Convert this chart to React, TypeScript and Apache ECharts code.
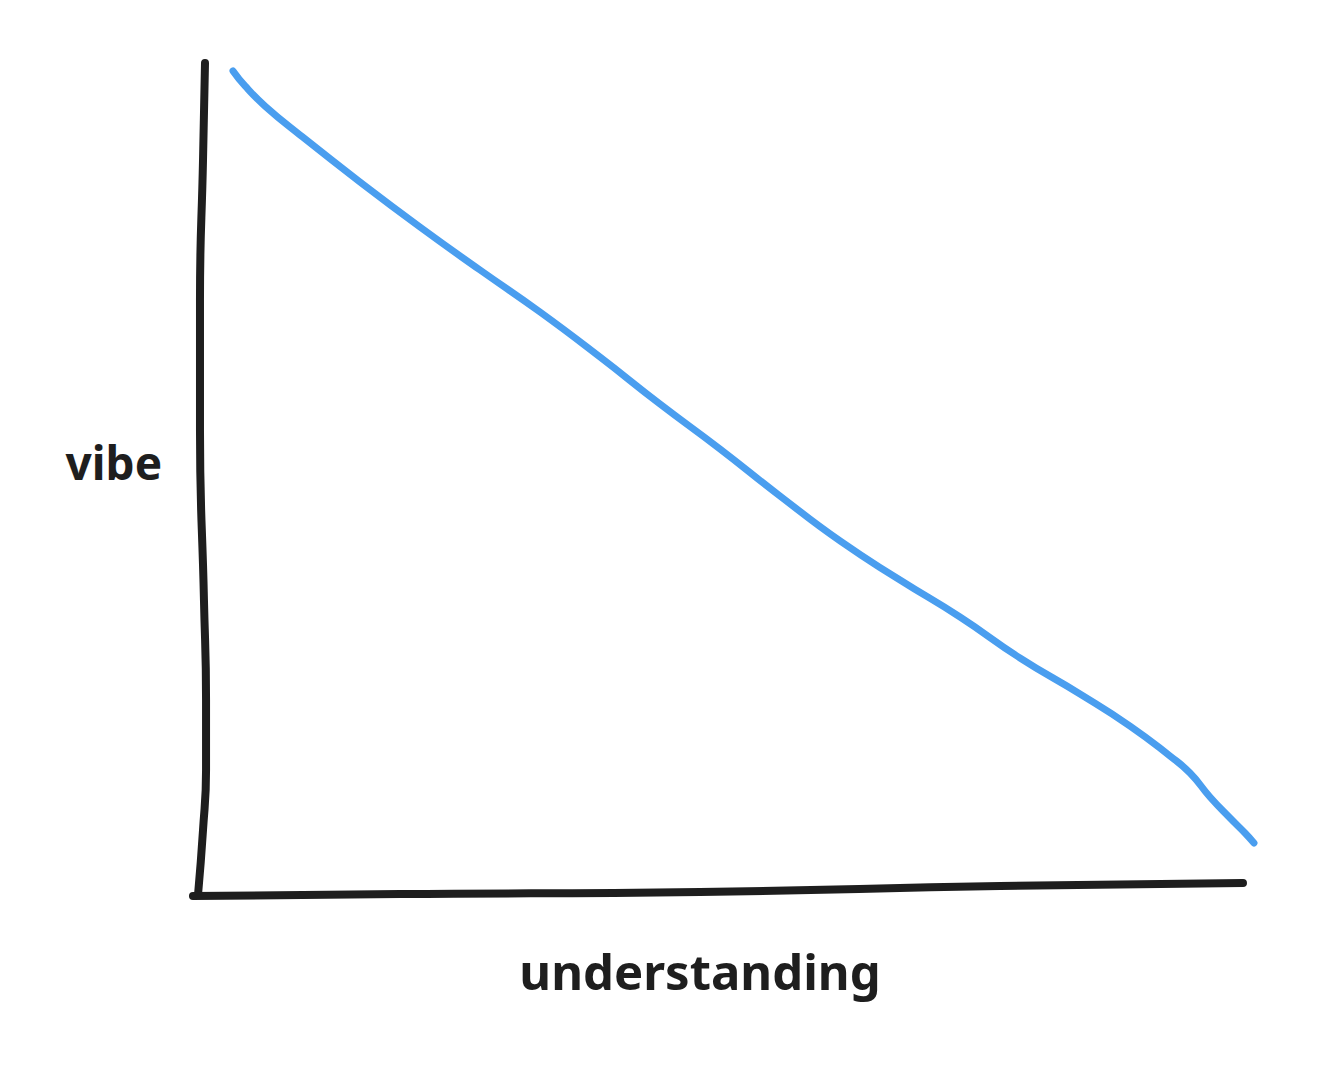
import React, { useEffect, useRef } from "react";
import * as echarts from "echarts";

// Hand-drawn chart: "vibe" falls as "understanding" grows (values 0-100)
const vibeCurve: [number, number][] = [
  [3.35, 99.04], [4.5, 97.24], [6.41, 94.83], [9.76, 91.35], [15.5, 85.7],
  [21.24, 80.29], [26.99, 75.12], [32.73, 70.07], [38.47, 64.66], [44.21, 59.01],
  [49.95, 53.61], [55.69, 47.96], [61.44, 42.55], [67.18, 37.86], [72.92, 33.41],
  [78.66, 28.49], [84.4, 24.16], [89.19, 20.31], [93.01, 16.71], [94.93, 14.66],
  [96.84, 11.78], [98.76, 9.25], [100.19, 7.45], [101.05, 6.25],
];

// Hand-drawn axis strokes
const yAxisStroke: [number, number][] = [
  [0.67, 100], [0.48, 88.34], [0.19, 71.51], [0.19, 55.89], [0.57, 35.46],
  [0.77, 23.44], [0.77, 15.02], [0.48, 7.81], [0, 0],
];
const xAxisStroke: [number, number][] = [
  [-0.48, -0.12], [19.33, 0.12], [48.04, 0.36], [76.75, 1.08], [100, 1.44],
];

const xAxisName = "understanding";
const yAxisName = "vibe";

export default function App() {
  const ref = useRef<HTMLDivElement>(null);
  useEffect(() => {
    if (!ref.current) return;
    const chart = echarts.init(ref.current, undefined, { renderer: "svg" });
    const font = "'Noto Sans', sans-serif";
    chart.setOption({
      animation: false,
      backgroundColor: "#ffffff",
      // x: -2..104 -> px 177.1..1284.8 ; y: -4..104 -> px 928.28..29.72
      grid: { left: 177.1, right: 32.2, top: 29.72, bottom: 143.72 },
      xAxis: {
        type: "value",
        min: -2,
        max: 104,
        axisLine: { show: false },
        axisTick: { show: false },
        axisLabel: { show: false },
        splitLine: { show: false },
        name: xAxisName,
        nameLocation: "middle",
        nameGap: 18,
        nameTextStyle: {
          fontFamily: font,
          fontWeight: "bold",
          fontSize: 49,
          color: "#1e1e1e",
          padding: [0, 62, 0, 0],
        },
      },
      yAxis: {
        type: "value",
        min: -4,
        max: 104,
        axisLine: { show: false },
        axisTick: { show: false },
        axisLabel: { show: false },
        splitLine: { show: false },
        name: yAxisName,
        nameLocation: "middle",
        nameRotate: 0,
        nameGap: 15,
        nameTextStyle: {
          fontFamily: font,
          fontWeight: "bold",
          fontSize: 46,
          color: "#1e1e1e",
          align: "right",
          verticalAlign: "bottom",
          lineHeight: 34,
        },
      },
      series: [
        {
          type: "line",
          data: yAxisStroke,
          smooth: true,
          symbol: "none",
          clip: false,
          lineStyle: { color: "#1e1e1e", width: 8, cap: "round", join: "round" },
          silent: true,
        },
        {
          type: "line",
          data: xAxisStroke,
          smooth: true,
          symbol: "none",
          clip: false,
          lineStyle: { color: "#1e1e1e", width: 8, cap: "round", join: "round" },
          silent: true,
        },
        {
          type: "line",
          data: vibeCurve,
          smooth: true,
          symbol: "none",
          clip: false,
          lineStyle: { color: "#4a9eef", width: 7, cap: "round", join: "round" },
          silent: true,
        },
      ],
    });
    return () => chart.dispose();
  }, []);
  return (
    <div
      ref={ref}
      style={{ position: "fixed", left: 0, top: 0, width: 1317, height: 1072 }}
    />
  );
}
